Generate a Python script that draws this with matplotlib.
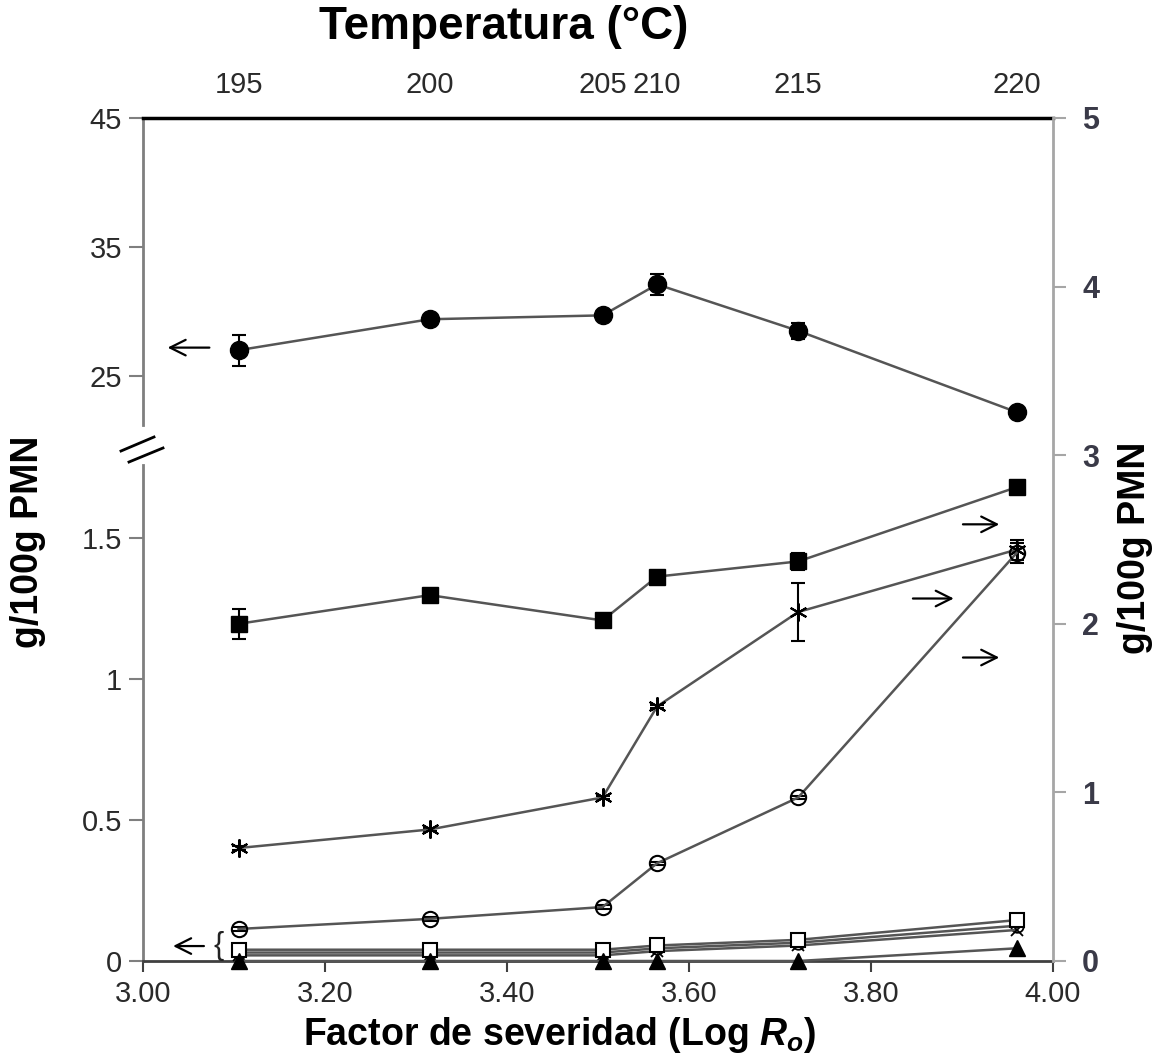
import matplotlib
matplotlib.use("Agg")
import matplotlib.pyplot as plt
from matplotlib.lines import Line2D

plt.rcParams['font.family'] = ['Liberation Sans', 'DejaVu Sans']
plt.rcParams['mathtext.fontset'] = 'custom'
plt.rcParams['mathtext.it'] = 'Liberation Sans:italic:bold'
plt.rcParams['mathtext.rm'] = 'Liberation Sans:bold'

####################################################################
# Data
####################################################################
log_ro = [3.105, 3.315, 3.505, 3.565, 3.72, 3.96]
temps = ["195", "200", "205", "210", "215", "220"]

# left axis, upper part (g/100g PMN)
circle_vals = [27.0, 29.4, 29.7, 32.1, 28.5, 22.2]
circle_err = [1.2, 0.3, 0.3, 0.8, 0.6, 0.3]

# right axis (g/100g PMN)
square_vals = [2.00, 2.17, 2.02, 2.28, 2.37, 2.81]
square_err = [0.09, 0.02, 0.02, 0.03, 0.05, 0.02]
star_vals = [0.67, 0.78, 0.97, 1.51, 2.07, 2.44]
star_err = [0.01, 0.01, 0.01, 0.01, 0.17, 0.06]
ocircle_vals = [0.19, 0.25, 0.32, 0.58, 0.97, 2.42]
ocircle_err = [0.01, 0.01, 0.01, 0.01, 0.01, 0.06]

# left axis, lower part
osq_vals = [0.04, 0.04, 0.04, 0.055, 0.075, 0.145]
oc2_vals = [0.03, 0.03, 0.03, 0.045, 0.065, 0.125]
x_vals = [0.02, 0.02, 0.02, 0.035, 0.055, 0.11]
tri_vals = [0.0, 0.0, 0.0, 0.0, 0.0, 0.045]

lo_ticks = [0, 0.5, 1, 1.5]
lo_labels = ["0", "0.5", "1", "1.5"]
hi_ticks = [25, 35, 45]
r_ticks = [0, 1, 2, 3, 4, 5]
x_ticks = [3.0, 3.2, 3.4, 3.6, 3.8, 4.0]

####################################################################
# Layout
####################################################################
W, H = 1168, 1062
x0, x1 = 143, 1053
y_bot, y_top, y_brk = 961, 118, 445

fig = plt.figure(figsize=(W / 100, H / 100), dpi=100)
L = x0 / W
AW = (x1 - x0) / W
B = (H - y_bot) / H
BRK = (H - y_brk) / H
T = (H - y_top) / H

ax_lo = fig.add_axes([L, B, AW, BRK - B])
ax_hi = fig.add_axes([L, BRK, AW, T - BRK])
ax_r = fig.add_axes([L, B, AW, T - B])
ax_r.patch.set_visible(False)

lo_max = (y_bot - y_brk) / 282.0
hi_min = 45 - (y_brk - y_top) / 12.9

tick_col = '#2a2a2a'
spine_col = '#7f7f7f'
line_col = '#555555'
fs = 21

for ax in (ax_lo, ax_hi, ax_r):
    ax.set_xlim(3.0, 4.0)

ax_lo.set_ylim(0, lo_max)
ax_hi.set_ylim(hi_min, 45)
ax_r.set_ylim(0, 5)

# lower left
for s in ('top', 'right'):
    ax_lo.spines[s].set_visible(False)
ax_lo.spines['left'].set_color(spine_col)
ax_lo.spines['left'].set_linewidth(2)
ax_lo.spines['left'].set_bounds(0, (y_bot - 465) / 282.0)
ax_lo.spines['bottom'].set_color('#404040')
ax_lo.spines['bottom'].set_linewidth(2)
ax_lo.set_yticks(lo_ticks)
ax_lo.set_yticklabels(lo_labels)
ax_lo.set_xticks(x_ticks)
ax_lo.set_xticklabels(["%.2f" % v for v in x_ticks])
ax_lo.tick_params(axis='y', direction='out', length=10, width=1.5, color=spine_col,
                  labelsize=fs, labelcolor=tick_col, pad=5)
ax_lo.tick_params(axis='x', direction='out', length=8, width=1.5, color='#404040',
                  labelsize=fs, labelcolor=tick_col, pad=6)

# upper left
for s in ('bottom', 'right'):
    ax_hi.spines[s].set_visible(False)
ax_hi.spines['top'].set_color('black')
ax_hi.spines['top'].set_linewidth(2.5)
ax_hi.spines['left'].set_color(spine_col)
ax_hi.spines['left'].set_linewidth(2)
ax_hi.spines['left'].set_bounds(45 - (425 - y_top) / 12.9, 45)
ax_hi.set_yticks(hi_ticks)
ax_hi.set_xticks([])
ax_hi.tick_params(axis='y', direction='out', length=10, width=1.5, color=spine_col,
                  labelsize=fs, labelcolor=tick_col, pad=5)

# top temperature axis
ax_t = ax_hi.twiny()
ax_t.set_xlim(3.0, 4.0)
ax_t.set_xticks(log_ro)
ax_t.set_xticklabels(temps)
ax_t.tick_params(axis='x', length=0, labelsize=21, labelcolor=tick_col, pad=14)
for s in ('bottom', 'right', 'left', 'top'):
    ax_t.spines[s].set_visible(False)

# right axis
for s in ('top', 'bottom', 'left'):
    ax_r.spines[s].set_visible(False)
ax_r.spines['right'].set_color('#a6a6a6')
ax_r.spines['right'].set_linewidth(2)
ax_r.yaxis.tick_right()
ax_r.set_yticks(r_ticks)
ax_r.set_xticks([])
ax_r.tick_params(axis='y', direction='out', length=9, width=1.5, color='#a6a6a6',
                 labelsize=22, labelcolor='#3a3a48', pad=12)
for lab in ax_r.get_yticklabels():
    lab.set_fontweight('bold')

####################################################################
# Series
####################################################################
ekw = dict(color=line_col, lw=1.8, capsize=5, capthick=1.5, elinewidth=1.5, ecolor='black')

ax_hi.errorbar(log_ro, circle_vals, yerr=circle_err, marker='o', ms=13,
               mfc='black', mec='black', clip_on=False, zorder=5, **ekw)

ax_r.errorbar(log_ro, square_vals, yerr=square_err, marker='s', ms=12,
              mfc='black', mec='black', zorder=5, **ekw)
ax_r.errorbar(log_ro, star_vals, yerr=star_err, marker=(6, 2, 0), ms=13,
              mfc='black', mec='black', mew=1.5, zorder=5, **ekw)
ax_r.errorbar(log_ro, ocircle_vals, yerr=ocircle_err, marker='o', ms=11,
              mfc='none', mec='black', mew=1.5, zorder=5, **ekw)

ax_lo.plot(log_ro, oc2_vals, marker='o', ms=9, mfc='none', mec='black', mew=1.3,
           color=line_col, lw=1.8, zorder=4, clip_on=False)
ax_lo.plot(log_ro, x_vals, marker='x', ms=9, mec='black', mew=1.3,
           color=line_col, lw=1.8, zorder=4, clip_on=False)
ax_lo.plot(log_ro, osq_vals, marker='s', ms=10, mfc='white', mec='black', mew=1.5,
           color=line_col, lw=1.8, zorder=5, clip_on=False)
ax_lo.plot(log_ro, tri_vals, marker='^', ms=11, mfc='black', mec='black',
           color=line_col, lw=1.8, zorder=6, clip_on=False)

####################################################################
# Arrows, brace, break marks
####################################################################
apr = dict(arrowstyle='->', lw=1.6, color='black', mutation_scale=28)
ax_hi.annotate('', xy=(3.024, 27.2), xytext=(3.076, 27.2), arrowprops=apr)
ax_lo.annotate('', xy=(3.030, 0.053), xytext=(3.070, 0.053), arrowprops=apr)
ax_lo.text(3.083, 0.053, '{', fontsize=22, ha='center', va='center', color='#222222')
ax_r.annotate('', xy=(3.944, 2.59), xytext=(3.898, 2.59), arrowprops=apr)
ax_r.annotate('', xy=(3.894, 2.15), xytext=(3.843, 2.15), arrowprops=apr)
ax_r.annotate('', xy=(3.944, 1.80), xytext=(3.898, 1.80), arrowprops=apr)

for (xa, ya, xb, yb) in [(121, 451, 154, 437), (129, 462, 163, 448)]:
    fig.add_artist(Line2D([xa / W, xb / W], [1 - ya / H, 1 - yb / H],
                          color='black', lw=2))

####################################################################
# Labels
####################################################################
fig.text(28 / W, 1 - 542 / H, 'g/100g PMN', rotation=90, ha='center', va='center',
         fontsize=27, fontweight='bold')
fig.text(1135 / W, 1 - 548 / H, 'g/100g PMN', rotation=90, ha='center', va='center',
         fontsize=27, fontweight='bold')
fig.text(504 / W, 1 - 27 / H, 'Temperatura (°C)', ha='center', va='center',
         fontsize=33, fontweight='bold')
fig.text(560 / W, 1 - 1035 / H, r'Factor de severidad (Log $R_o$)', ha='center',
         va='center', fontsize=27, fontweight='bold')

plt.savefig('out.png', dpi=100)
